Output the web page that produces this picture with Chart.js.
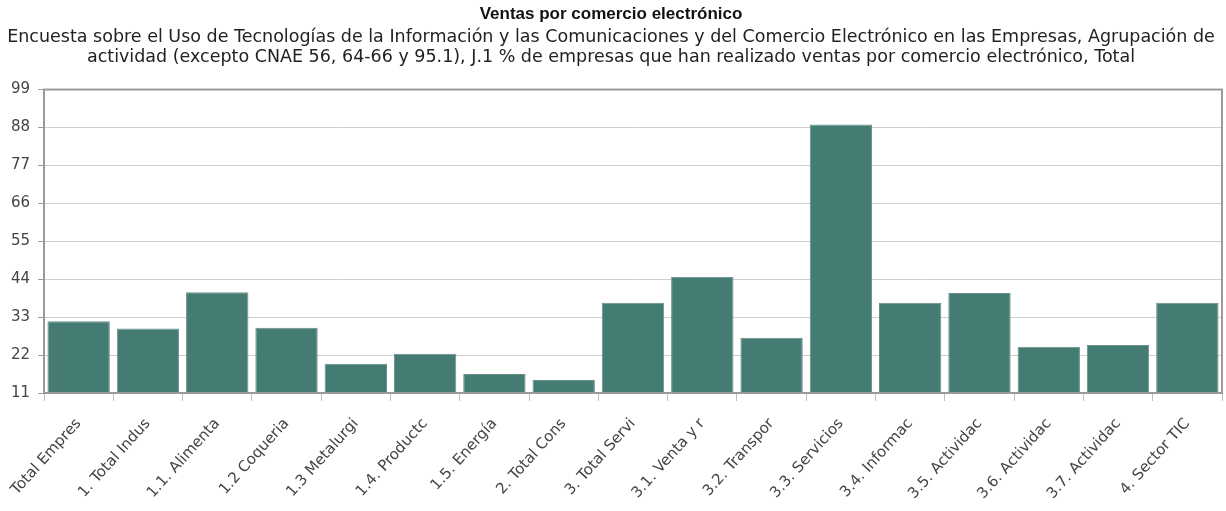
<!DOCTYPE html>
<html>
<head>
<meta charset="utf-8">
<script src="https://cdn.jsdelivr.net/npm/chart.js@4.4.1/dist/chart.umd.min.js"></script>
<style>
  html, body { margin: 0; padding: 0; background: #fff; }
  #wrap { width: 1226px; height: 511px; }
</style>
</head>
<body>
<div id="wrap"><canvas id="c"></canvas></div>
<script>
const categories = [
  'Total Empres', '1. Total Indus', '1.1. Alimenta', '1.2 Coqueria', '1.3 Metalurgi',
  '1.4. Productc', '1.5. Energía', '2. Total Cons', '3. Total Servi', '3.1. Venta y r',
  '3.2. Transpor', '3.3. Servicios', '3.4. Informac', '3.5. Actividac', '3.6. Actividac',
  '3.7. Actividac', '4. Sector TIC',
];
const ventas = [
  31.8, 29.7, 40.2, 29.9, 19.5, 22.4, 16.5, 14.8, 37.2, 44.7,
  27.0, 88.9, 37.2, 40.0, 24.4, 24.9, 37.2,
];
const yTicks = [11, 22, 33, 44, 55, 66, 77, 88, 99];

const title = 'Ventas por comercio electrónico';
const subtitle = [
  'Encuesta sobre el Uso de Tecnologías de la Información y las Comunicaciones y del Comercio Electrónico en las Empresas, Agrupación de',
  'actividad (excepto CNAE 56, 64-66 y 95.1), J.1 % de empresas que han realizado ventas por comercio electrónico, Total',
];

const FONT = "'DejaVu Sans', Arial, sans-serif";

// frame round the plot area (top and right edges too)
const frame = {
  id: 'frame',
  afterDatasetsDraw(chart) {
    const { ctx, chartArea: a } = chart;
    ctx.save();
    ctx.strokeStyle = '#9a9a9a';
    ctx.lineWidth = 2;
    ctx.strokeRect(a.left, a.top, a.right - a.left, a.bottom - a.top);
    ctx.restore();
  },
};

new Chart(document.getElementById('c'), {
  type: 'bar',
  data: {
    labels: categories,
    datasets: [{
      data: ventas,
      backgroundColor: '#447c74',
      borderColor: '#6a8f89',
      borderWidth: 1,
      barPercentage: 0.9,
      categoryPercentage: 1,
    }],
  },
  options: {
    responsive: true,
    maintainAspectRatio: false,
    animation: false,
    layout: { padding: { left: 0, right: 4, top: 0, bottom: 0 } },
    plugins: {
      legend: { display: false },
      tooltip: { enabled: false },
      title: {
        display: true,
        text: title,
        color: '#111',
        font: { family: "'Liberation Sans', Arial, sans-serif", size: 17, weight: 'bold', lineHeight: 1.2 },
        padding: { top: 4, bottom: 4 },
      },
      subtitle: {
        display: true,
        text: subtitle,
        color: '#222',
        font: { family: FONT, size: 17.5, lineHeight: 1.09 },
        padding: { top: 0, bottom: 23 },
      },
    },
    scales: {
      x: {
        grid: {
          offset: true,
          drawOnChartArea: false,
          tickLength: 8,
          color: '#bdbdbd',
          tickColor: '#bdbdbd',
        },
        border: { color: '#9a9a9a', width: 2 },
        ticks: {
          autoSkip: false,
          maxRotation: 48,
          minRotation: 48,
          padding: 14,
          color: '#444',
          font: { family: FONT, size: 15 },
        },
        afterFit(s) { s.height = 118; s.paddingLeft = 0; s.paddingRight = 0; },
      },
      y: {
        min: 11,
        max: 99,
        afterBuildTicks(s) { s.ticks = yTicks.map((v) => ({ value: v })); },
        grid: { color: '#cfcfcf', tickLength: 6, tickColor: '#9a9a9a' },
        border: { color: '#9a9a9a', width: 2 },
        ticks: {
          padding: 8,
          color: '#444',
          font: { family: FONT, size: 15 },
        },
        afterFit(s) { s.width = 44; },
      },
    },
  },
  plugins: [frame],
});
</script>
</body>
</html>
